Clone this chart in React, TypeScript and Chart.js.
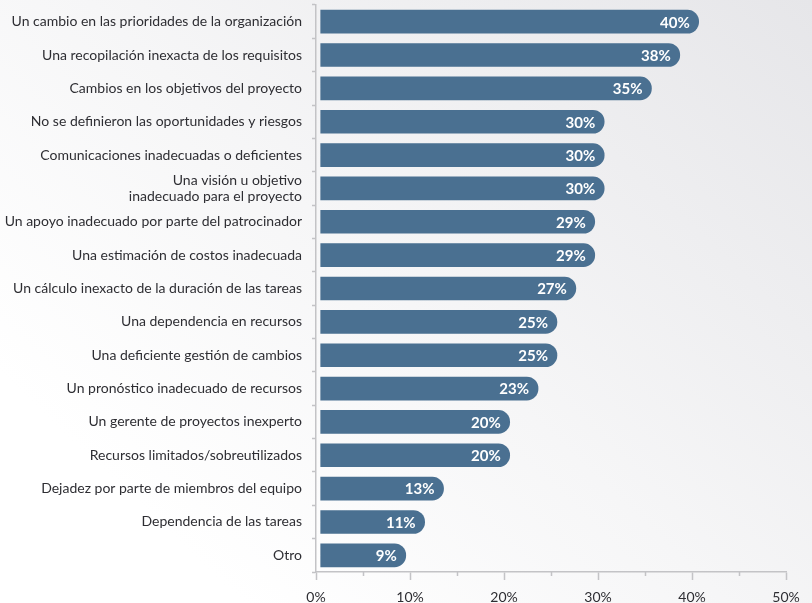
import React, { useEffect, useRef } from "react";
import { Chart, registerables } from "chart.js";

Chart.register(...registerables);

const categories: (string | string[])[] = [
  "Un cambio en las prioridades de la organización",
  "Una recopilación inexacta de los requisitos",
  "Cambios en los objetivos del proyecto",
  "No se definieron las oportunidades y riesgos",
  "Comunicaciones inadecuadas o deficientes",
  ["Una visión u objetivo", "inadecuado para el proyecto"],
  "Un apoyo inadecuado por parte del patrocinador",
  "Una estimación de costos inadecuada",
  "Un cálculo inexacto de la duración de las tareas",
  "Una dependencia en recursos",
  "Una deficiente gestión de cambios",
  "Un pronóstico inadecuado de recursos",
  "Un gerente de proyectos inexperto",
  "Recursos limitados/sobreutilizados",
  "Dejadez por parte de miembros del equipo",
  "Dependencia de las tareas",
  "Otro",
];

const values: number[] = [40, 38, 35, 30, 30, 30, 29, 29, 27, 25, 25, 23, 20, 20, 13, 11, 9];

const xTickMin = 0;
const xTickMax = 50;
const xTickStep = 10;
const xMinorStep = 5;

const FONT = "Lato, 'Open Sans', sans-serif";
const BAR_COLOR = "#4a7091";
const AXIS_COLOR = "#c3c3c6";
const TEXT_COLOR = "#2e2e33";

const bgPlugin = {
  id: "bgGradient",
  beforeDraw(chart: any) {
    const { ctx, width, height } = chart;
    const g = ctx.createLinearGradient(width, 0, width * 0.3, height);
    g.addColorStop(0, "#e6e6e9");
    g.addColorStop(0.6, "#f6f6f7");
    g.addColorStop(1, "#ffffff");
    ctx.save();
    ctx.fillStyle = g;
    ctx.fillRect(0, 0, width, height);
    ctx.restore();
  },
};

const minorTickPlugin = {
  id: "minorTicks",
  afterDraw(chart: any) {
    const sx = chart.scales.x;
    const { ctx } = chart;
    ctx.save();
    ctx.strokeStyle = AXIS_COLOR;
    ctx.lineWidth = 1.5;
    for (let v = xTickMin + xMinorStep; v < xTickMax; v += xTickStep) {
      const px = Math.round(sx.getPixelForValue(v)) + 0.5;
      ctx.beginPath();
      ctx.moveTo(px, sx.top);
      ctx.lineTo(px, sx.top + 4);
      ctx.stroke();
    }
    ctx.restore();
  },
};

const valueLabelPlugin = {
  id: "valueLabels",
  afterDatasetsDraw(chart: any) {
    const { ctx } = chart;
    const meta = chart.getDatasetMeta(0);
    ctx.save();
    ctx.fillStyle = "#ffffff";
    ctx.font = `bold 15px ${FONT}`;
    ctx.textAlign = "right";
    ctx.textBaseline = "middle";
    meta.data.forEach((bar: any, i: number) => {
      ctx.fillText(`${values[i]}%`, bar.x - 9, bar.y + 1);
    });
    ctx.restore();
  },
};

export default function App() {
  const ref = useRef<HTMLCanvasElement | null>(null);

  useEffect(() => {
    document.body.style.margin = "0";
    const canvas = ref.current;
    if (!canvas) return;
    const chart = new Chart(canvas, {
      type: "bar",
      data: {
        labels: categories,
        datasets: [
          {
            data: values,
            xAxisID: "xb",
            backgroundColor: BAR_COLOR,
            borderRadius: 12,
            borderSkipped: "start",
            barThickness: 23,
          },
        ],
      },
      options: {
        indexAxis: "y",
        animation: false,
        responsive: true,
        maintainAspectRatio: false,
        layout: { padding: { top: 5, right: 26, left: 0, bottom: 0 } },
        plugins: {
          legend: { display: false },
          tooltip: { enabled: false },
        },
        scales: {
          x: {
            type: "linear",
            position: "bottom",
            min: xTickMin,
            max: xTickMax,
            ticks: {
              stepSize: xTickStep,
              color: TEXT_COLOR,
              font: { family: FONT, size: 14 },
              padding: 9,
              callback: (v: any) => `${v}%`,
              maxRotation: 0,
            },
            grid: {
              drawOnChartArea: false,
              drawTicks: true,
              tickLength: 8,
              tickColor: AXIS_COLOR,
              tickWidth: 1.5,
            },
            border: { color: AXIS_COLOR, width: 1.5 },
            afterFit: (s: any) => {
              s.height = 31;
              s.paddingLeft = 0;
              s.paddingRight = 0;
            },
          },
          xb: {
            type: "linear",
            display: false,
            min: -0.5,
            max: 49.24,
          },
          y: {
            type: "category",
            position: "left",
            ticks: {
              color: TEXT_COLOR,
              font: { family: FONT, size: 14, lineHeight: 1.1 },
              padding: 10,
              autoSkip: false,
            },
            grid: {
              offset: true,
              drawOnChartArea: false,
              drawTicks: true,
              tickLength: 4,
              tickColor: AXIS_COLOR,
              tickWidth: 1.5,
            },
            border: { color: AXIS_COLOR, width: 1.5 },
            afterFit: (s: any) => {
              s.width = 316;
              s.paddingTop = 0;
              s.paddingBottom = 0;
            },
          },
        },
      },
      plugins: [bgPlugin, minorTickPlugin, valueLabelPlugin],
    });
    return () => chart.destroy();
  }, []);

  return (
    <div style={{ width: 812, height: 603, position: "relative" }}>
      <canvas ref={ref} />
    </div>
  );
}
